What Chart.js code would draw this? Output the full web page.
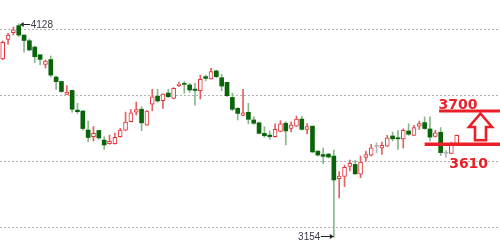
<!DOCTYPE html>
<html>
<head>
<meta charset="utf-8">
<script src="https://cdn.jsdelivr.net/npm/chart.js@4"></script>
<style>
html,body{margin:0;padding:0;background:#fff;}
#wrap{width:500px;height:245px;position:relative;}
</style>
</head>
<body>
<div id="wrap"><canvas id="c"></canvas></div>
<script>
// ---- data ----
const opens  = [3968,4057,4088,4120,4077,4051,4022,3987,3943,3965,3885,3865,3806,3824,3734,3730,3643,3613,3641,3597,3581,3581,3613,3643,3681,3725,3738,3665,3761,3798,3777,3812,3788,3845,3856,3849,3830,3823,3887,3876,3913,3882,3861,3792,3742,3710,3724,3689,3676,3628,3620,3613,3637,3674,3651,3661,3693,3646,3661,3547,3531,3533,3524,3421,3431,3477,3486,3441,3518,3528,3568,3561,3569,3616,3608,3603,3639,3619,3661,3677,3648,3614,3633,3537,3536,3582];
const closes = [4044,4077,4101,4077,4052,4009,3978,3966,3958,3894,3864,3819,3816,3738,3727,3650,3609,3628,3607,3575,3592,3610,3643,3679,3722,3737,3676,3730,3795,3776,3807,3795,3834,3853,3852,3826,3824,3875,3879,3910,3887,3844,3800,3738,3719,3722,3692,3674,3628,3617,3613,3646,3671,3639,3666,3693,3646,3659,3543,3529,3523,3520,3415,3433,3473,3491,3443,3497,3531,3562,3568,3573,3608,3603,3603,3642,3624,3654,3672,3650,3611,3630,3540,3537,3582,3619];
const highs  = [4050,4085,4114,4128,4077,4059,4027,3987,3963,3981,3890,3867,3846,3826,3765,3732,3684,3659,3643,3613,3620,3629,3651,3725,3736,3771,3750,3732,3829,3829,3808,3829,3837,3862,3865,3856,3856,3894,3894,3925,3917,3898,3861,3811,3746,3829,3765,3704,3680,3658,3639,3671,3686,3681,3681,3707,3706,3672,3661,3547,3561,3537,3552,3453,3483,3506,3505,3524,3547,3578,3584,3588,3619,3634,3641,3649,3672,3665,3684,3703,3703,3642,3654,3550,3588,3620];
const lows   = [3964,4035,4077,4069,3999,4004,3951,3940,3926,3885,3829,3815,3805,3725,3719,3643,3590,3593,3601,3555,3578,3579,3610,3640,3680,3712,3640,3664,3731,3770,3742,3792,3786,3841,3811,3815,3757,3785,3868,3875,3882,3823,3795,3731,3689,3709,3671,3669,3625,3610,3601,3611,3635,3575,3635,3659,3643,3625,3540,3524,3490,3515,3154,3333,3385,3456,3441,3425,3502,3524,3540,3532,3568,3593,3555,3561,3619,3618,3646,3646,3593,3611,3527,3518,3534,3579];
const candleIdx = opens.map((_, i) => i);
const gridValues = [3200, 3500, 3800, 4100];
// annotation (hand-drawn overlay)
const upperLabel = "3700", lowerLabel = "3610";
const upperLevel = 3730, lowerLevel = 3578;
const upperFrom = 81.7, lowerFrom = 79.0;
const hiIdx = 3, loIdx = 62;

// ---- colors ----
const GREEN = '#0a650a', GREEN_WICK = '#88b888', RED = '#e2323a', RED_WICK = '#e66060', GRAY = '#b3b3b3';
const ANNOT_RED = '#ea1f28';
const dirColor = (i, up, down, flat) => closes[i] > opens[i] ? up : (closes[i] < opens[i] ? down : flat);

const bodies = candleIdx.map(i => ({x: i, y: [opens[i], closes[i]]}));
const wicks  = candleIdx.map(i => ({x: i, y: [lows[i], highs[i]]}));

const overlay = {
  id: 'overlay',
  afterDatasetsDraw(chart) {
    const {ctx, scales: {x, y}, chartArea} = chart;
    ctx.save();
    // extreme labels
    ctx.font = '10px "Liberation Sans Narrow", "Liberation Sans", Arial, sans-serif';
    ctx.fillStyle = '#333';
    ctx.strokeStyle = '#222';
    ctx.lineWidth = 1;
    // 4128
    let px = x.getPixelForValue(hiIdx), py = Math.round(y.getPixelForValue(highs[hiIdx])) + 0.5;
    ctx.beginPath(); ctx.moveTo(px + 4, py); ctx.lineTo(px + 11.5, py); ctx.stroke();
    ctx.beginPath(); ctx.moveTo(px + 1, py); ctx.lineTo(px + 5, py - 2.5); ctx.lineTo(px + 5, py + 2.5); ctx.closePath(); ctx.fill();
    ctx.textAlign = 'left'; ctx.textBaseline = 'middle';
    ctx.fillStyle = '#3a3a4a';
    ctx.fillText(String(highs[hiIdx]), px + 12, py + 0.5);
    // 3154
    px = x.getPixelForValue(loIdx); py = Math.round(y.getPixelForValue(lows[loIdx])) - 0.5;
    ctx.fillStyle = '#222';
    ctx.beginPath(); ctx.moveTo(px - 13, py); ctx.lineTo(px - 4, py); ctx.stroke();
    ctx.beginPath(); ctx.moveTo(px, py); ctx.lineTo(px - 4, py - 2.5); ctx.lineTo(px - 4, py + 2.5); ctx.closePath(); ctx.fill();
    ctx.textAlign = 'right';
    ctx.fillStyle = '#3a3a4a';
    ctx.fillText(String(lows[loIdx]), px - 13.5, py + 0.5);

    // red annotation
    ctx.strokeStyle = ANNOT_RED; ctx.fillStyle = ANNOT_RED;
    const uy = y.getPixelForValue(upperLevel), ly = y.getPixelForValue(lowerLevel);
    ctx.lineWidth = 3;
    ctx.beginPath(); ctx.moveTo(x.getPixelForValue(upperFrom), uy); ctx.lineTo(chartArea.right, uy); ctx.stroke();
    ctx.lineWidth = 3.5;
    ctx.beginPath(); ctx.moveTo(x.getPixelForValue(lowerFrom), ly); ctx.lineTo(chartArea.right, ly); ctx.stroke();
    ctx.font = 'bold 14px "DejaVu Sans", Verdana, sans-serif';
    ctx.textAlign = 'left'; ctx.textBaseline = 'alphabetic';
    ctx.fillText(upperLabel, x.getPixelForValue(upperFrom) - 0.5, uy - 2.5);
    ctx.fillText(lowerLabel, x.getPixelForValue(lowerFrom) + 24.5, ly + 24);
    // hollow up arrow between the lines
    const ax = 480.5, top = uy + 2.5, headB = uy + 16, bot = ly - 4;
    ctx.beginPath();
    ctx.moveTo(ax, top);
    ctx.lineTo(ax + 11.5, headB);
    ctx.lineTo(ax + 5.5, headB);
    ctx.lineTo(ax + 5.5, bot);
    ctx.lineTo(ax - 5.5, bot);
    ctx.lineTo(ax - 5.5, headB);
    ctx.lineTo(ax - 11.5, headB);
    ctx.closePath();
    ctx.fillStyle = '#fff'; ctx.fill();
    ctx.lineWidth = 2.6; ctx.lineJoin = 'miter'; ctx.strokeStyle = ANNOT_RED; ctx.stroke();
    ctx.restore();
  }
};

new Chart(document.getElementById('c'), {
  type: 'bar',
  data: {
    datasets: [
      {
        label: 'body', data: bodies, order: 0, barThickness: 4, minBarLength: 1,
        backgroundColor: candleIdx.map(i => dirColor(i, '#ffffff', GREEN, GRAY)),
        borderColor: candleIdx.map(i => dirColor(i, RED, GREEN, GRAY)),
        borderWidth: candleIdx.map(i => closes[i] > opens[i] ? 1 : 0),
        borderSkipped: false, grouped: false
      },
      {
        label: 'wick', data: wicks, order: 1, barThickness: 1,
        backgroundColor: candleIdx.map(i => dirColor(i, RED_WICK, GREEN_WICK, GRAY)),
        borderWidth: 0, grouped: false
      }
    ]
  },
  options: {
    responsive: true, maintainAspectRatio: false, animation: false,
    layout: {padding: 0},
    plugins: {legend: {display: false}, tooltip: {enabled: false}},
    scales: {
      x: {type: 'linear', min: -0.506, max: 93.11, display: false, offset: false},
      y: {
        min: 3118, max: 4237, position: 'left',
        afterBuildTicks: s => { s.ticks = gridValues.map(v => ({value: v})); },
        ticks: {display: false},
        grid: {drawTicks: false, color: '#b0b0b0', lineWidth: 1},
        border: {display: false, dash: [2, 2]}
      }
    }
  },
  plugins: [overlay]
});
</script>
</body>
</html>
